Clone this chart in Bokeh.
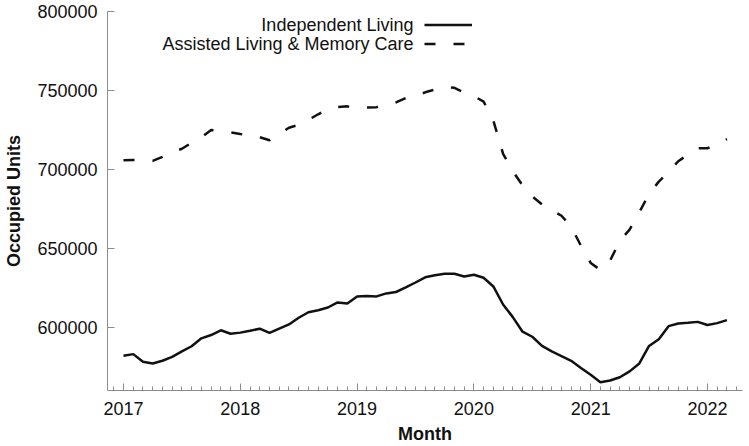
from bokeh.plotting import figure
from bokeh.models import FixedTicker, BasicTickFormatter, Legend, LegendItem, Range1d, Label
from bokeh.embed import file_html
from bokeh.resources import INLINE

# ---- data ----
months = [f"{y}-{m:02d}" for y in range(2017, 2023) for m in range(1, 13)][:63]

independent_living = [
    582300, 583300, 578500, 577400, 579100, 581600, 585000, 588300, 593300, 595400, 598400, 596200,
    596900, 598100, 599400, 596700, 599400, 602100, 606300, 609800, 611100, 612800, 616000, 615300,
    619700, 620000, 619800, 621700, 622600, 625500, 628600, 631900, 633200, 634100, 634100, 632400,
    633500, 631600, 626100, 614700, 606700, 597500, 594300, 588500, 585000, 582100, 579100, 574500,
    570200, 565500, 566600, 568700, 572400, 577400, 588500, 592700, 601000, 602700, 603100, 603700,
    601700, 602900, 604800,
]

assisted_memory = [
    705900, 706100, 705800, 705500, 708000, 711000, 713200, 717000, 720500, 725000, 724500, 723500,
    722500, 722000, 720500, 718600, 722500, 726500, 728300, 731500, 735000, 738300, 739500, 740000,
    739000, 739200, 739500, 741000, 742500, 745200, 746500, 748900, 750600, 752200, 751700, 748700,
    746500, 743000, 731000, 710000, 699000, 690000, 683000, 678000, 674500, 670800, 664000, 651800,
    641000, 636500, 642500, 655000, 662000, 673000, 684700, 692400, 698400, 705300, 709500, 713500,
    713500, 716200, 719300,
]

year_ticks = [2017, 2018, 2019, 2020, 2021, 2022]
y_ticks = [600000, 650000, 700000, 750000, 800000]
series_labels = ["Independent Living", "Assisted Living & Memory Care"]

x = [int(s[:4]) + (int(s[5:]) - 1) / 12 for s in months]
month_ticks = [2016 + k / 12 for k in range(11, 12 * 6 + 4)]

FONT = "Liberation Sans"
AXIS_COLOR = "#8c8c8c"
TEXT_COLOR = "#111111"

p = figure(
    width=749, height=446,
    output_backend="svg", toolbar_location=None,
    x_range=Range1d(2016.863, 2022.30),
    y_range=Range1d(560300, 800000),
    min_border_left=107, min_border_right=7, min_border_top=11, min_border_bottom=56,
)
p.outline_line_color = None
p.grid.visible = False

r1 = p.line(x, independent_living, line_width=2.5, line_color=TEXT_COLOR)
r2 = p.line(x, assisted_memory, line_width=2.5, line_color=TEXT_COLOR, line_dash="11 18")

for ax in (p.xaxis, p.yaxis):
    ax.axis_line_color = AXIS_COLOR
    ax.major_tick_line_color = AXIS_COLOR
    ax.minor_tick_line_color = AXIS_COLOR
    ax.major_tick_in = 7
    ax.major_tick_out = 0
    ax.minor_tick_in = 4
    ax.minor_tick_out = 0
    ax.major_label_text_font = FONT
    ax.major_label_text_font_size = "18px"
    ax.major_label_text_color = TEXT_COLOR
    ax.axis_label_text_font = FONT
    ax.axis_label_text_font_size = "18px"
    ax.axis_label_text_font_style = "bold"
    ax.axis_label_text_color = TEXT_COLOR

p.xaxis.ticker = FixedTicker(ticks=year_ticks, minor_ticks=month_ticks)
p.yaxis.ticker = FixedTicker(ticks=y_ticks)
p.yaxis.minor_tick_line_color = None
p.yaxis.formatter = BasicTickFormatter(use_scientific=False)
p.xaxis.major_label_standoff = 11
p.yaxis.major_label_standoff = 10
p.xaxis.axis_label = "Month"
p.yaxis.axis_label = "Occupied Units"
p.xaxis.axis_label_standoff = 6
p.yaxis.axis_label_standoff = 10

# legend: line samples on the right, texts right-aligned to their left
legend = Legend(
    items=[LegendItem(label=" ", renderers=[r1]),
           LegendItem(label=" ", renderers=[r2])],
    location=(317, 337),
    glyph_width=48, glyph_height=19, label_height=19, label_width=0,
    label_standoff=0, spacing=0, padding=0, margin=0,
    border_line_color=None, background_fill_alpha=0,
    label_text_font=FONT, label_text_font_size="8px",
)
p.add_layout(legend)

for i, txt in enumerate(series_labels):
    p.add_layout(Label(
        x=306, y=366 - 19 * i, x_units="screen", y_units="screen", text=txt,
        text_align="right", text_baseline="middle",
        text_font=FONT, text_font_size="18px", text_color=TEXT_COLOR,
    ))

open("out.html", "w").write(file_html(p, INLINE))
